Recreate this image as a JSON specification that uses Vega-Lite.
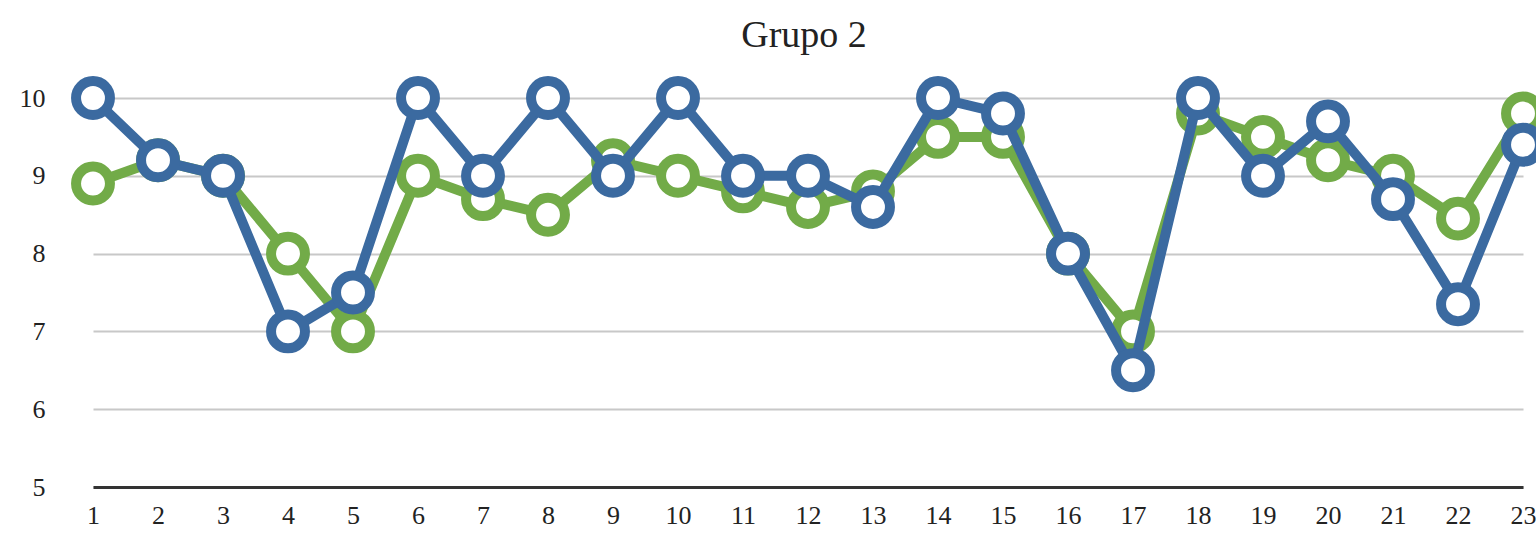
{
  "$schema": "https://vega.github.io/schema/vega-lite/v6.json",
  "width": 1430,
  "height": 389,
  "autosize": {"type": "none"},
  "padding": {"left": 93, "top": 98, "right": 13, "bottom": 48},
  "background": "white",
  "title": {"text": "Grupo 2", "font": "Liberation Serif", "fontSize": 38, "fontWeight": "normal", "color": "#222222", "anchor": "middle", "dx": -4, "offset": 6},
  "config": {
    "view": {"stroke": null},
    "axis": {"labelFont": "Liberation Serif", "labelFontSize": 26, "labelColor": "#222222", "title": null}
  },
  "data": {
    "values": [
      {"x": 1, "serie": "Serie 2", "valor": 8.9},
      {"x": 2, "serie": "Serie 2", "valor": 9.2},
      {"x": 3, "serie": "Serie 2", "valor": 9.0},
      {"x": 4, "serie": "Serie 2", "valor": 8.0},
      {"x": 5, "serie": "Serie 2", "valor": 7.0},
      {"x": 6, "serie": "Serie 2", "valor": 9.0},
      {"x": 7, "serie": "Serie 2", "valor": 8.7},
      {"x": 8, "serie": "Serie 2", "valor": 8.5},
      {"x": 9, "serie": "Serie 2", "valor": 9.2},
      {"x": 10, "serie": "Serie 2", "valor": 9.0},
      {"x": 11, "serie": "Serie 2", "valor": 8.8},
      {"x": 12, "serie": "Serie 2", "valor": 8.6},
      {"x": 13, "serie": "Serie 2", "valor": 8.8},
      {"x": 14, "serie": "Serie 2", "valor": 9.5},
      {"x": 15, "serie": "Serie 2", "valor": 9.5},
      {"x": 16, "serie": "Serie 2", "valor": 8.0},
      {"x": 17, "serie": "Serie 2", "valor": 7.0},
      {"x": 18, "serie": "Serie 2", "valor": 9.8},
      {"x": 19, "serie": "Serie 2", "valor": 9.5},
      {"x": 20, "serie": "Serie 2", "valor": 9.2},
      {"x": 21, "serie": "Serie 2", "valor": 9.0},
      {"x": 22, "serie": "Serie 2", "valor": 8.45},
      {"x": 23, "serie": "Serie 2", "valor": 9.8},
      {"x": 1, "serie": "Serie 1", "valor": 10.0},
      {"x": 2, "serie": "Serie 1", "valor": 9.2},
      {"x": 3, "serie": "Serie 1", "valor": 9.0},
      {"x": 4, "serie": "Serie 1", "valor": 7.0},
      {"x": 5, "serie": "Serie 1", "valor": 7.5},
      {"x": 6, "serie": "Serie 1", "valor": 10.0},
      {"x": 7, "serie": "Serie 1", "valor": 9.0},
      {"x": 8, "serie": "Serie 1", "valor": 10.0},
      {"x": 9, "serie": "Serie 1", "valor": 9.0},
      {"x": 10, "serie": "Serie 1", "valor": 10.0},
      {"x": 11, "serie": "Serie 1", "valor": 9.0},
      {"x": 12, "serie": "Serie 1", "valor": 9.0},
      {"x": 13, "serie": "Serie 1", "valor": 8.6},
      {"x": 14, "serie": "Serie 1", "valor": 10.0},
      {"x": 15, "serie": "Serie 1", "valor": 9.8},
      {"x": 16, "serie": "Serie 1", "valor": 8.0},
      {"x": 17, "serie": "Serie 1", "valor": 6.5},
      {"x": 18, "serie": "Serie 1", "valor": 10.0},
      {"x": 19, "serie": "Serie 1", "valor": 9.0},
      {"x": 20, "serie": "Serie 1", "valor": 9.7},
      {"x": 21, "serie": "Serie 1", "valor": 8.7},
      {"x": 22, "serie": "Serie 1", "valor": 7.35},
      {"x": 23, "serie": "Serie 1", "valor": 9.4}
    ]
  },
  "encoding": {
    "x": {"field": "x", "type": "quantitative", "scale": {"domain": [1, 23], "nice": false, "zero": false},
      "axis": {"values": [1,2,3,4,5,6,7,8,9,10,11,12,13,14,15,16,17,18,19,20,21,22,23], "format": "d", "ticks": false, "grid": false, "domain": true, "domainColor": "#333333", "domainWidth": 3, "labelPadding": 15, "labelFlush": false, "labelOverlap": false}},
    "y": {"field": "valor", "type": "quantitative", "scale": {"domain": [5, 10], "nice": false, "zero": false},
      "axis": {"values": [5,6,7,8,9,10], "format": "d", "ticks": false, "domain": false, "grid": true, "gridColor": "#c8c8c8", "gridWidth": 2, "labelPadding": 48}}
  },
  "layer": [
    {"transform": [{"filter": "datum.serie === 'Serie 2'"}], "mark": {"type": "line", "color": "#72ab48", "strokeWidth": 10, "strokeJoin": "round"}},
    {"transform": [{"filter": "datum.serie === 'Serie 2'"}], "mark": {"type": "point", "shape": "circle", "filled": false, "fill": "white", "fillOpacity": 1, "stroke": "#72ab48", "strokeWidth": 10, "size": 1150, "opacity": 1}},
    {"transform": [{"filter": "datum.serie === 'Serie 1'"}], "mark": {"type": "line", "color": "#3b6aa0", "strokeWidth": 10, "strokeJoin": "round"}},
    {"transform": [{"filter": "datum.serie === 'Serie 1'"}], "mark": {"type": "point", "shape": "circle", "filled": false, "fill": "white", "fillOpacity": 1, "stroke": "#3b6aa0", "strokeWidth": 10, "size": 1150, "opacity": 1}}
  ]
}
